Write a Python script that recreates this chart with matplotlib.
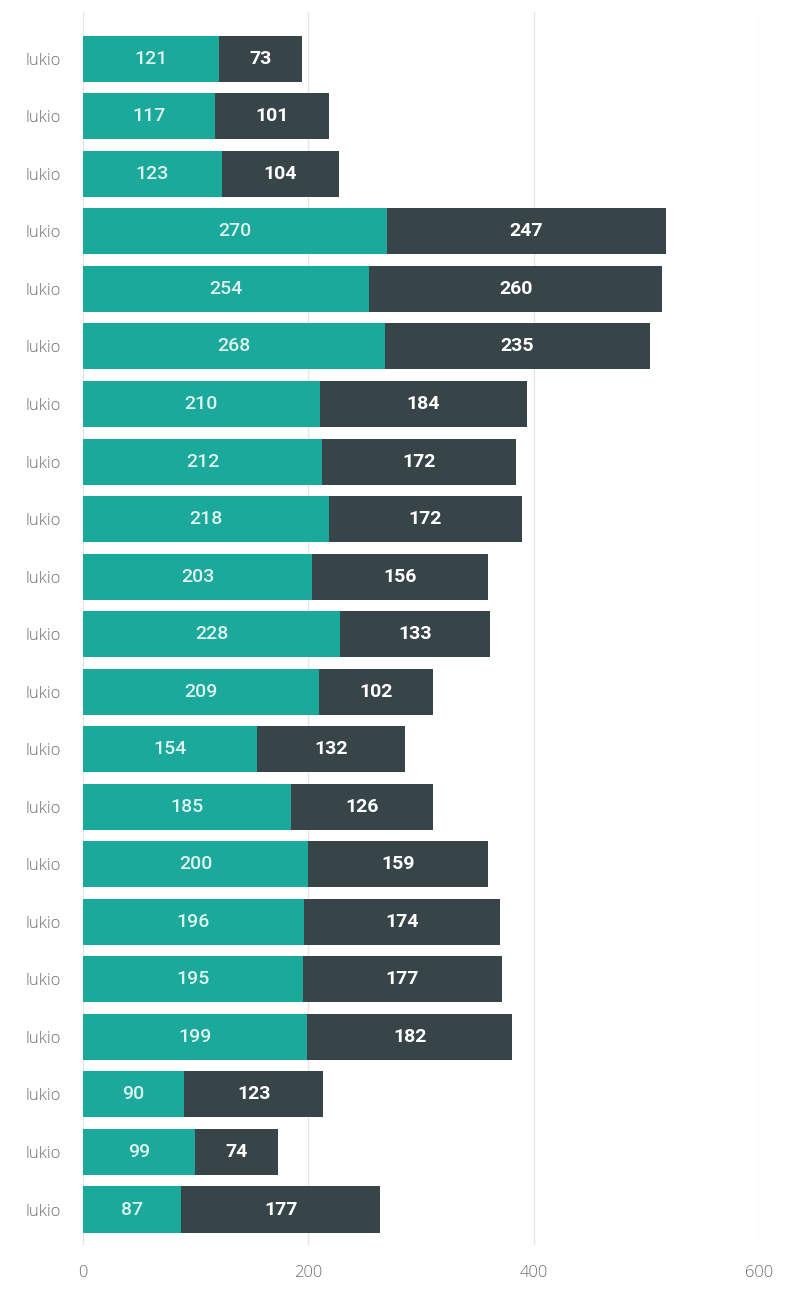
import matplotlib
matplotlib.use("Agg")
import matplotlib.pyplot as plt
import numpy as np

# data (top to bottom)
categories = ["lukio"] * 21
teal_vals = [121, 117, 123, 270, 254, 268, 210, 212, 218, 203, 228, 209,
             154, 185, 200, 196, 195, 199, 90, 99, 87]
dark_vals = [73, 101, 104, 247, 260, 235, 184, 172, 172, 156, 133, 102,
             132, 126, 159, 174, 177, 182, 123, 74, 177]
x_ticks = [0, 200, 400, 600]

TEAL = "#1aa99a"
DARK = "#374548"

fig = plt.figure(figsize=(8.02, 12.89), dpi=100)
ax = fig.add_axes([0.1035, 0.034, 0.843, 0.957])

y = np.arange(len(categories))
ax.barh(y, teal_vals, height=0.8, color=TEAL, zorder=2)
ax.barh(y, dark_vals, left=teal_vals, height=0.8, color=DARK, zorder=2)

for i in range(len(y)):
    t = teal_vals[i]
    d = dark_vals[i]
    ax.text(t / 2, i, str(t), ha="center", va="center", color="#dff3ef",
            fontsize=14, fontfamily="Roboto", fontweight="medium", zorder=3)
    ax.text(t + d / 2, i, str(d), ha="center", va="center", color="white",
            fontsize=14, fontfamily="Roboto", fontweight="bold", zorder=3)

ax.set_xlim(0, 600)
ax.set_ylim(20.62, -0.82)
ax.set_xticks(x_ticks)
ax.set_yticks(y)
ax.set_yticklabels(categories)
ax.grid(axis="x", color="#e6e6e6", linewidth=1, zorder=0)
for s in ax.spines.values():
    s.set_visible(False)
ax.tick_params(axis="both", length=0, colors="#6e6e6e", labelsize=12)
ax.tick_params(axis="y", pad=16)
ax.tick_params(axis="x", pad=14)
for lab in ax.get_xticklabels() + ax.get_yticklabels():
    lab.set_fontfamily("Open Sans")
    lab.set_fontweight("light")

fig.savefig("out.png", dpi=100, facecolor="white")
